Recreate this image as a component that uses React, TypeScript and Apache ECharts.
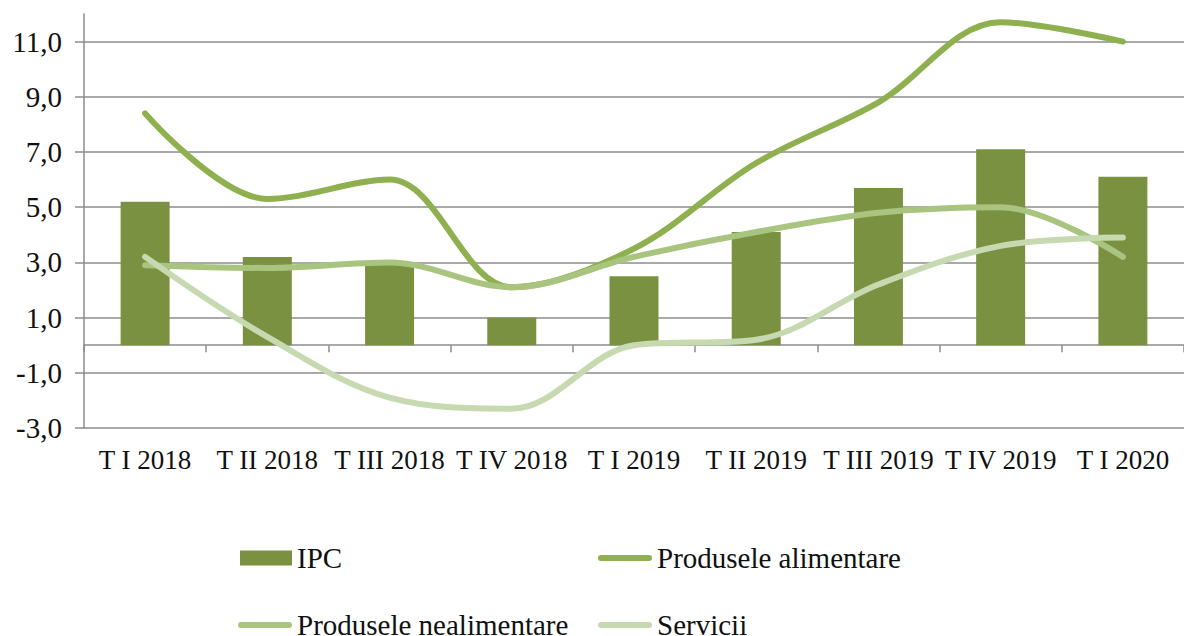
import React, { useEffect, useRef } from "react";
import * as echarts from "echarts";

const categories = ["T I 2018", "T II 2018", "T III 2018", "T IV 2018", "T I 2019", "T II 2019", "T III 2019", "T IV 2019", "T I 2020"];
const ipc = [5.2, 3.2, 3.0, 1.0, 2.5, 4.1, 5.7, 7.1, 6.1];
const alimentare = [8.4, 5.3, 6.0, 2.1, 3.5, 6.6, 8.8, 11.7, 11.0];
const nealimentare = [2.9, 2.8, 3.0, 2.1, 3.2, 4.1, 4.8, 5.0, 3.2];
const servicii = [3.2, 0.3, -1.9, -2.3, 0.0, 0.2, 2.2, 3.6, 3.9];
const yTicks = [-3, -1, 1, 3, 5, 7, 9, 11];

const FONT = "'Liberation Serif', 'Times New Roman', serif";
const GRAY = "#8c8c8c";
const C_BAR = "#7a9142";
const C_ALIM = "#8fb04f";
const C_NEAL = "#a9c47f";
const C_SERV = "#c6d9b0";
const LINE_ICON = "path://M3,0 L51,0 A3,3 0 0 1 51,6 L3,6 A3,3 0 0 1 3,0 Z";

export default function App() {
  const ref = useRef<HTMLDivElement>(null);
  useEffect(() => {
    if (!ref.current) return;
    const chart = echarts.init(ref.current, null, { renderer: "svg" });
    const fmt = (v: number) => v.toFixed(1).replace(".", ",");
    const legendText = { fontFamily: FONT, fontSize: 29, lineHeight: 30, color: "#111" };
    const lineSeries = (name: string, data: number[], color: string) => ({
      name,
      type: "line",
      data,
      smooth: 0.35,
      symbol: "none",
      lineStyle: { color, width: 6, cap: "round", join: "round" },
      itemStyle: { color },
      z: 3,
    });
    const lineLegend = (name: string, left: number, top: number) => ({
      data: [{ name, icon: LINE_ICON }],
      left,
      top,
      padding: 0,
      itemWidth: 54,
      itemHeight: 6,
      itemGap: 0,
      textStyle: legendText,
      selectedMode: false,
    });
    chart.setOption({
      animation: false,
      backgroundColor: "#ffffff",
      grid: { left: 84, top: 14, width: 1110, height: 414, containLabel: false },
      legend: [
        { data: [{ name: "IPC", icon: "rect" }], left: 240, top: 543, padding: 0, itemWidth: 52, itemHeight: 15, textStyle: legendText, selectedMode: false },
        lineLegend("Produsele alimentare", 598, 543),
        lineLegend("Produsele nealimentare", 238, 610),
        lineLegend("Servicii", 598, 610),
      ],
      xAxis: [
        {
          type: "category",
          data: categories,
          position: "bottom",
          axisLine: { show: false, onZero: false },
          axisTick: { show: false },
          axisLabel: { fontFamily: FONT, fontSize: 27, color: "#111", margin: 18, interval: 0 },
        },
        {
          type: "category",
          data: categories,
          position: "bottom",
          axisLine: { show: true, onZero: true, lineStyle: { color: GRAY, width: 1.5 } },
          axisTick: { show: true, length: 7, interval: 0, lineStyle: { color: GRAY, width: 1.5 } },
          axisLabel: { show: false },
        },
      ],
      yAxis: {
        type: "value",
        min: -3,
        max: 12,
        interval: 2,
        axisLine: { show: true, lineStyle: { color: GRAY, width: 1.5 } },
        axisTick: { show: true, length: 9, customValues: yTicks, lineStyle: { color: GRAY, width: 1.5 } },
        splitLine: { show: true, lineStyle: { color: GRAY, width: 1.5 } },
        axisLabel: { customValues: yTicks, formatter: fmt, fontFamily: FONT, fontSize: 29, color: "#111", margin: 22 },
      },
      series: [
        {
          name: "IPC",
          type: "bar",
          data: ipc,
          barWidth: 49,
          itemStyle: { color: C_BAR },
          z: 2,
        },
        lineSeries("Produsele alimentare", alimentare, C_ALIM),
        lineSeries("Produsele nealimentare", nealimentare, C_NEAL),
        lineSeries("Servicii", servicii, C_SERV),
      ],
    });
    return () => chart.dispose();
  }, []);
  return <div ref={ref} style={{ position: "absolute", left: 0, top: 0, width: 1184, height: 636 }} />;
}
